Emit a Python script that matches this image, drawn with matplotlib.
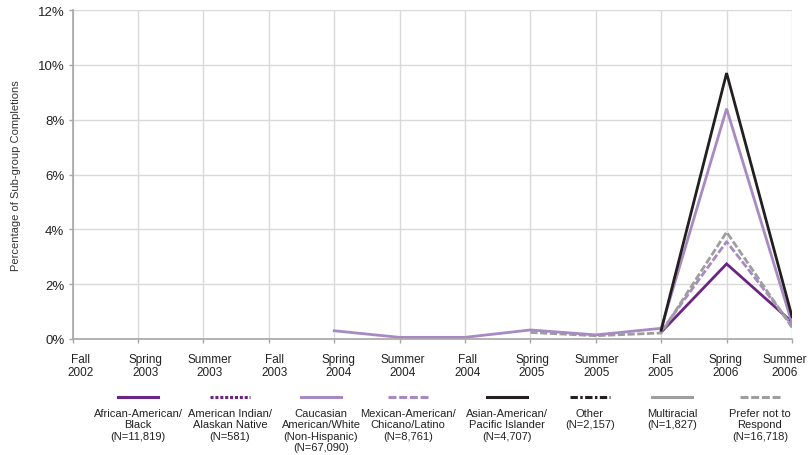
import matplotlib
matplotlib.use("Agg")
import matplotlib.pyplot as plt
import matplotlib.transforms as mtransforms
from matplotlib.lines import Line2D
import numpy as np

plt.rcParams["font.family"] = ["Liberation Sans", "DejaVu Sans"]

terms = ["Fall\n2002", "Spring\n2003", "Summer\n2003", "Fall\n2003", "Spring\n2004",
         "Summer\n2004", "Fall\n2004", "Spring\n2005", "Summer\n2005", "Fall\n2005",
         "Spring\n2006", "Summer\n2006"]

nan = np.nan
# percent of each sub-group completing in each term
african = [nan, nan, nan, nan, nan, nan, nan, nan, nan, 0.25, 2.74, 0.62]
american_indian = [nan] * 12
caucasian = [nan, nan, nan, nan, 0.30, 0.06, 0.06, 0.33, 0.15, 0.39, 8.40, 0.58]
mexican = [nan, nan, nan, nan, nan, nan, nan, nan, nan, 0.28, 3.55, 0.50]
asian = [nan, nan, nan, nan, nan, nan, nan, nan, nan, 0.32, 9.70, 0.82]
other = [nan] * 12
multiracial = [nan] * 12
prefer_not = [nan, nan, nan, nan, nan, nan, nan, 0.24, 0.12, 0.22, 3.90, 0.42]

group_labels = ["African-American/\nBlack\n(N=11,819)",
                "American Indian/\nAlaskan Native\n(N=581)",
                "Caucasian\nAmerican/White\n(Non-Hispanic)\n(N=67,090)",
                "Mexican-American/\nChicano/Latino\n(N=8,761)",
                "Asian-American/\nPacific Islander\n(N=4,707)",
                "Other\n(N=2,157)",
                "Multiracial\n(N=1,827)",
                "Prefer not to\nRespond\n(N=16,718)"]

dark_purple = "#6B2483"
light_purple = "#A88AC2"
gray = "#9E9E9E"
black = "#231F20"

series = [
    (african, dict(color=dark_purple, ls="-")),
    (american_indian, dict(color=dark_purple, dashes=(1, 0.6))),
    (caucasian, dict(color=light_purple, ls="-")),
    (mexican, dict(color=light_purple, dashes=(2.6, 0.9))),
    (asian, dict(color=black, ls="-")),
    (other, dict(color=black, dashes=(2.4, 0.8, 0.8, 0.8))),
    (multiracial, dict(color=gray, ls="-")),
    (prefer_not, dict(color=gray, dashes=(2.6, 0.9))),
]

W, H = 809, 456
fig = plt.figure(figsize=(W / 100, H / 100), dpi=100)
ax = fig.add_axes([72.6 / W, 1 - 340 / H, (792 - 72.6) / W, (340 - 11) / H])

x = np.arange(len(terms))
draw_order = [6, 1, 5, 0, 3, 7, 2, 4]
for i in draw_order:
    vals, style = series[i]
    ax.plot(x, np.array(vals, dtype=float), lw=2, solid_joinstyle="miter", **style)

ax.set_xlim(0, len(terms) - 1)
ax.set_ylim(0, 12)
ax.set_xticks(x)
ax.set_xticklabels(terms, fontsize=8.5, color="#222222", linespacing=1.1)
ax.set_yticks(np.arange(0, 13, 2))
ax.set_yticklabels([f"{v}%" for v in range(0, 13, 2)], fontsize=9.5, color="#222222")
ax.set_ylabel("Percentage of Sub-group Completions", fontsize=8, color="#333333", labelpad=12)

ax.grid(True, color="#d9d9d9", lw=1)
ax.set_axisbelow(True)
for s in ["top", "right"]:
    ax.spines[s].set_visible(False)
for s in ["left", "bottom"]:
    ax.spines[s].set_color("#a6a6a6")
    ax.spines[s].set_linewidth(1.2)
ax.tick_params(axis="both", length=3, color="#a6a6a6", width=1)
ax.tick_params(axis="x", pad=7)
ax.tick_params(axis="y", pad=3)

# category labels are spread a bit narrower than the ticks;
# the last one is pulled in so it stays on the canvas
n = len(terms)
for i, lbl in enumerate(ax.get_xticklabels()):
    px = 8 - 10 * i / (n - 1)
    if i == n - 1:
        px = -7
    shift = mtransforms.ScaledTranslation(px / 100, 0, fig.dpi_scale_trans)
    lbl.set_transform(lbl.get_transform() + shift)

# legend row under the axis: sample line with the label beneath
centers = [138, 230, 321, 408, 507, 590, 672, 760]
for cx, (vals, style), text in zip(centers, series, group_labels):
    ln = Line2D([(cx - 20) / W, (cx + 20) / W], [1 - 398 / H] * 2,
                transform=fig.transFigure, lw=2.2, **style)
    fig.add_artist(ln)
    fig.text(cx / W, 1 - 409 / H, text, ha="center", va="top", fontsize=8,
             color="#222222", linespacing=1.17)

fig.savefig("out.png", dpi=100)
